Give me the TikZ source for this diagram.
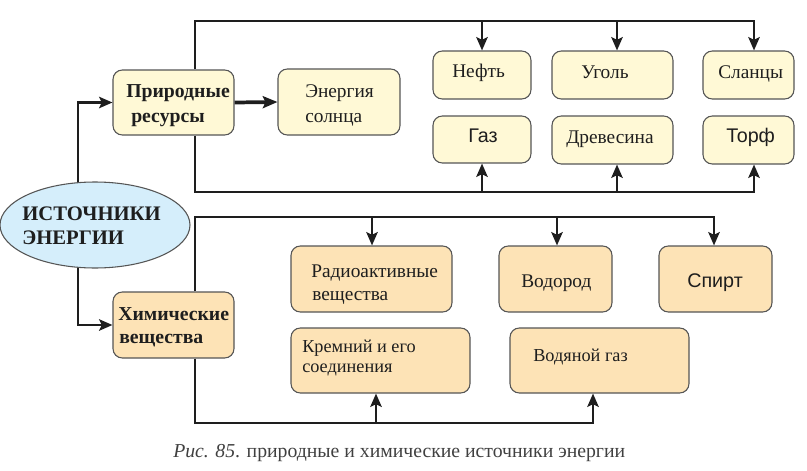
\documentclass[tikz,border=0pt]{standalone}
\usepackage{fontspec}
\setmainfont{Liberation Serif}
\newfontfamily\sansf{Liberation Sans}
\usetikzlibrary{arrows.meta,shapes.geometric}
\definecolor{ylw}{HTML}{FFF9D6}
\definecolor{org}{HTML}{FDE3B6}
\definecolor{blu}{HTML}{D5EEFB}
\definecolor{edge}{HTML}{555555}
\definecolor{ink}{HTML}{1E1E1E}
\newcommand\mybox[6]{\node[#6, minimum width={(#4-#2)*0.75pt}, minimum height={(#5-#3)*0.75pt}] (#1) at ({(#2+#4)/2},{(#3+#5)/2}) {};}
\begin{document}
\begin{tikzpicture}[x=0.75pt,y=-0.75pt,
  boxy/.style={draw=edge, line width=0.8pt, fill=ylw, rounded corners=7pt, inner sep=0pt},
  boxo/.style={draw=edge, line width=0.8pt, fill=org, rounded corners=7pt, inner sep=0pt},
  txt/.style={anchor=base west, inner sep=0pt, font=\fontsize{14.5}{17}\selectfont, text=ink},
  txtb/.style={txt, font=\fontsize{14.8}{17}\selectfont\bfseries},
  txts/.style={txt, font=\sansf\fontsize{14.8}{17}\selectfont},
  txtm/.style={txt, font=\fontsize{13.7}{16}\selectfont},
  conn/.style={draw=ink, line width=2.2pt},
  arr/.style={conn, -{Stealth[length=10pt,width=8.5pt,inset=2pt]}},
]
\useasboundingbox (0,0) rectangle (807,471);
% boxes
\mybox{pr}{113}{70}{234}{135}{boxy}
\mybox{sun}{278}{69}{400}{135}{boxy}
\mybox{neft}{433}{51}{531}{99}{boxy}
\mybox{ug}{552}{51}{673}{99}{boxy}
\mybox{sl}{703}{51}{794}{99}{boxy}
\mybox{gaz}{433}{116}{531}{163}{boxy}
\mybox{drev}{552}{116}{673}{164}{boxy}
\mybox{torf}{703}{116}{794}{164}{boxy}
\mybox{xim}{113}{292}{234}{358}{boxo}
\mybox{rad}{291}{246}{452}{312}{boxo}
\mybox{vod}{499}{246}{612}{312}{boxo}
\mybox{spirt}{659}{246}{772}{312}{boxo}
\mybox{krem}{291}{328}{470}{393}{boxo}
\mybox{vgaz}{510}{328}{689}{393}{boxo}
% bend coordinates
\coordinate (tl) at (195,21);
\coordinate (t1) at (482,21);
\coordinate (t2) at (617,21);
\coordinate (t3) at (754,21);
\coordinate (bl) at (195,192);
\coordinate (b1) at (482,192);
\coordinate (b2) at (617,192);
\coordinate (b3) at (754,192);
\coordinate (cl) at (195,217);
\coordinate (c1) at (372,217);
\coordinate (c2) at (557,217);
\coordinate (c3) at (714,217);
\coordinate (dl) at (195,423);
\coordinate (d1) at (376,423);
\coordinate (d2) at (593,423);
\coordinate (e0) at (78,184);
\coordinate (e1) at (78,266);
% connectors
\draw[arr] (pr.north -| tl) -- (tl) -| (t3 |- sl.north);
\draw[arr] (t1) -- (t1 |- neft.north);
\draw[arr] (t2) -- (t2 |- ug.north);
\draw[arr] (pr.south -| bl) -- (bl) -| (b3 |- torf.south);
\draw[arr] (b1) -- (b1 |- gaz.south);
\draw[arr] (b2) -- (b2 |- drev.south);
\draw[arr, line width=2.8pt, -{Stealth[length=11pt,width=9pt,inset=2pt]}] (pr.east) -- (sun.west);
\draw[arr] (xim.north -| cl) -- (cl) -| (c3 |- spirt.north);
\draw[arr] (c1) -- (c1 |- rad.north);
\draw[arr] (c2) -- (c2 |- vod.north);
\draw[arr] (xim.south -| dl) -- (dl) -| (d2 |- vgaz.south);
\draw[arr] (d1) -- (d1 |- krem.south);
\draw[arr] (e0) |- (pr.west);
\draw[arr] (e1) |- (xim.west);
% ellipse
\node[ellipse, draw=edge, line width=0.8pt, fill=blu, minimum width={190*0.75pt}, minimum height={86*0.75pt}, inner sep=0pt] (ell) at (95,225) {};
% texts
\node[txtb] at (126,97) {Природные};
\node[txtb] at (131,122) {ресурсы};
\node[txt] at (305,97) {Энергия};
\node[txt] at (305,122) {солнца};
\node[txt] at (452,77) {Нефть};
\node[txt] at (581,78) {Уголь};
\node[txt] at (718,78) {Сланцы};
\node[txts] at (468,142) {Газ};
\node[txt] at (566,143) {Древесина};
\node[txts] at (726,142) {Торф};
\node[txtb, font=\fontsize{15.5}{18}\selectfont\bfseries] at (22,220) {ИСТОЧНИКИ};
\node[txtb, font=\fontsize{15.5}{18}\selectfont\bfseries] at (22,244) {ЭНЕРГИИ};
\node[txtb] at (118,320) {Химические};
\node[txtb] at (119,343) {вещества};
\node[txt] at (311,277) {Радиоактивные};
\node[txt] at (312,300) {вещества};
\node[txt] at (521,287) {Водород};
\node[txts] at (687,287) {Спирт};
\node[txtm] at (302,352) {Кремний и его};
\node[txtm] at (302,372) {соединения};
\node[txtm] at (533,361) {Водяной газ};
\node[txt, font=\fontsize{14.8}{17}\selectfont, text=ink!85] at (173,457) {\textit{Рис. 85}. природные и химические источники энергии};
\end{tikzpicture}
\end{document}
